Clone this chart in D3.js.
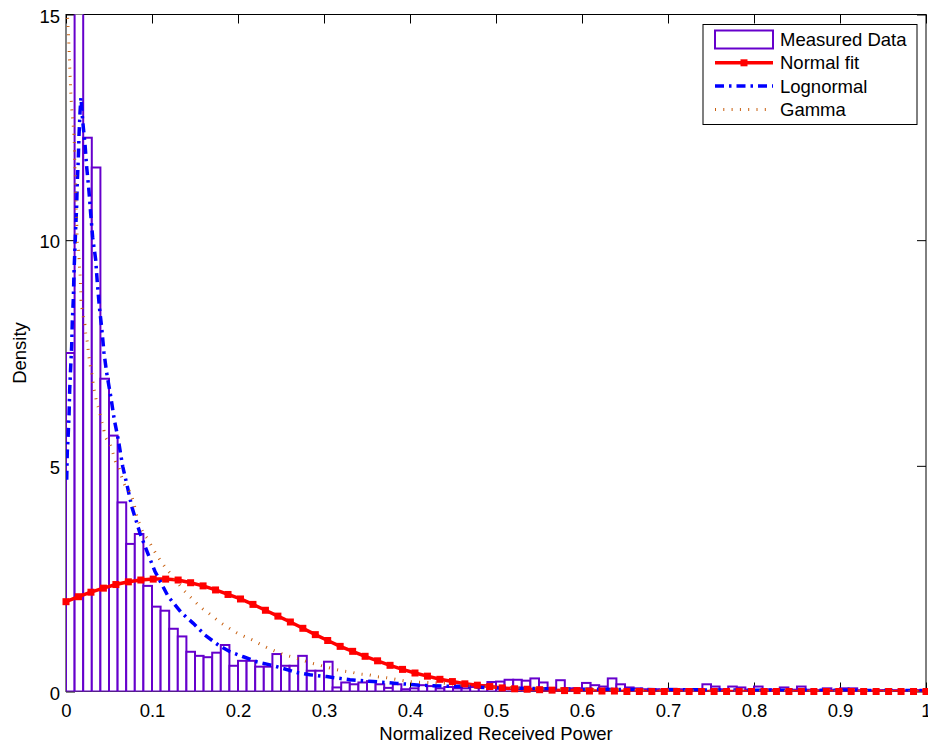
<!DOCTYPE html>
<html>
<head>
<meta charset="utf-8">
<script src="https://cdn.jsdelivr.net/npm/d3@7"></script>
<style>
  body { margin: 0; background: #fff; }
  svg { display: block; }
</style>
</head>
<body>
<svg id="chart"></svg>
<script>
// histogram of normalized received power (density per 0.01 bin, 100 bins on [0, 1])
const binWidth = 0.01;
const binHeights = [
  7.5, 16.5, 12.27, 11.61, 6.93, 5.67, 4.19, 3.27, 3.49, 2.34,
  1.88, 1.79, 1.39, 1.22, 0.88, 0.79, 0.76, 0.86, 1.03, 0.57,
  0.68, 0.68, 0.55, 0.55, 0.83, 0.57, 0.57, 0.79, 0.46, 0.46,
  0.66, 0.09, 0.2, 0.16, 0.2, 0.23, 0.16, 0.08, 0.16, 0.05,
  0.07, 0.14, 0.12, 0.07, 0.1, 0.07, 0.07, 0.1, 0.14, 0.21,
  0.22, 0.26, 0.26, 0.24, 0.29, 0.2, 0.07, 0.25, 0.07, 0.07,
  0.19, 0.14, 0.11, 0.29, 0.16, 0.09, 0.07, 0.05, 0.05, 0.04,
  0.06, 0.05, 0.04, 0.05, 0.16, 0.11, 0.05, 0.11, 0.09, 0.04,
  0.11, 0.05, 0.04, 0.09, 0.04, 0.11, 0.04, 0.03, 0.07, 0.03,
  0.07, 0.07, 0.03, 0.02, 0.03, 0.02, 0.03, 0.02, 0.02, 0.03
];

// normal fit, evaluated at 70 points
const normalX = [
  0, 0.0145, 0.0290, 0.0435, 0.0580, 0.0725, 0.0870, 0.1014, 0.1159, 0.1304,
  0.1449, 0.1594, 0.1739, 0.1884, 0.2029, 0.2174, 0.2319, 0.2464, 0.2609, 0.2754,
  0.2899, 0.3043, 0.3188, 0.3333, 0.3478, 0.3623, 0.3768, 0.3913, 0.4058, 0.4203,
  0.4348, 0.4493, 0.4638, 0.4783, 0.4928, 0.5072, 0.5217, 0.5362, 0.5507, 0.5652,
  0.5797, 0.5942, 0.6087, 0.6232, 0.6377, 0.6522, 0.6667, 0.6812, 0.6957, 0.7101,
  0.7246, 0.7391, 0.7536, 0.7681, 0.7826, 0.7971, 0.8116, 0.8261, 0.8406, 0.8551,
  0.8696, 0.8841, 0.8986, 0.9130, 0.9275, 0.9420, 0.9565, 0.9710, 0.9855, 1.0
];
const normalY = [
  1.99, 2.10, 2.20, 2.29, 2.37, 2.43, 2.47, 2.49, 2.49, 2.47,
  2.41, 2.34, 2.25, 2.15, 2.05, 1.93, 1.80, 1.67, 1.54, 1.40,
  1.26, 1.13, 1.00, 0.89, 0.78, 0.68, 0.58, 0.49, 0.41, 0.34,
  0.27, 0.22, 0.17, 0.14, 0.11, 0.08, 0.06, 0.05, 0.04, 0.03,
  0.02, 0.02, 0.01, 0.01, 0.01, 0, 0, 0, 0, 0,
  0, 0, 0, 0, 0, 0, 0, 0, 0, 0,
  0, 0, 0, 0, 0, 0, 0, 0, 0, 0
];

// lognormal fit
const lognormalX = [
  0.0008, 0.0015, 0.0023, 0.0035, 0.0043, 0.0055, 0.0066, 0.0073, 0.0085, 0.0093,
  0.0105, 0.0113, 0.0124, 0.0131, 0.0143, 0.0151, 0.0163, 0.0174, 0.0194, 0.0221,
  0.0241, 0.0267, 0.0287, 0.0310, 0.0345, 0.0364, 0.0387, 0.0415, 0.0442, 0.0473,
  0.0520, 0.0562, 0.0608, 0.0659, 0.0717, 0.0764, 0.0860, 0.0957, 0.1035, 0.1190,
  0.1345, 0.1480, 0.1616, 0.1771, 0.1907, 0.2062, 0.2217, 0.2372, 0.2527, 0.2683,
  0.2837, 0.3031, 0.3302, 0.3573, 0.3845, 0.4116, 0.4387, 0.4659, 0.4969, 0.5279,
  0.6, 0.7, 0.8, 0.9, 1.0
];
const lognormalY = [
  4.69, 5.32, 5.58, 6.10, 6.69, 7.21, 7.65, 8.18, 8.69, 9.29,
  9.87, 10.28, 10.76, 11.28, 11.79, 12.31, 12.83, 13.16, 12.64, 12.13,
  11.61, 11.09, 10.59, 10.06, 9.57, 9.06, 8.54, 8.06, 7.50, 7.06,
  6.54, 6.02, 5.58, 4.99, 4.51, 4.10, 3.51, 3.03, 2.66, 2.10,
  1.74, 1.51, 1.25, 1.03, 0.88, 0.77, 0.66, 0.59, 0.51, 0.42,
  0.37, 0.33, 0.26, 0.22, 0.18, 0.14, 0.12, 0.11, 0.08, 0.07,
  0.05, 0.04, 0.03, 0.025, 0.02
];

// gamma fit
const gammaX = [
  0.0005, 0.0014, 0.0027, 0.0047, 0.0055, 0.0085, 0.0093, 0.0105, 0.0113, 0.0116,
  0.0124, 0.0131, 0.0143, 0.0151, 0.0155, 0.0163, 0.0167, 0.0171, 0.0174, 0.0186,
  0.0201, 0.0221, 0.0229, 0.0248, 0.0259, 0.0271, 0.0287, 0.0306, 0.0317, 0.0337,
  0.0357, 0.0387, 0.0407, 0.0434, 0.0453, 0.0512, 0.0543, 0.0570, 0.0620, 0.0648,
  0.0686, 0.0744, 0.0783, 0.0826, 0.0860, 0.0899, 0.0957, 0.0997, 0.1055, 0.1113,
  0.1171, 0.1229, 0.1287, 0.1357, 0.1422, 0.1500, 0.1578, 0.1655, 0.1733, 0.1810,
  0.1899, 0.1985, 0.2073, 0.2171, 0.2256, 0.2352, 0.2450, 0.2547, 0.2643, 0.2741,
  0.2837, 0.2934, 0.3031, 0.3206, 0.3310, 0.3410, 0.3515, 0.3613, 0.3709, 0.4000,
  0.4194, 0.4407, 0.4620, 0.5, 0.55, 0.6, 0.7, 0.8, 0.9, 1.0
];
const gammaY = [
  17.5, 15.2, 14.64, 13.68, 13.30, 12.52, 12.33, 11.57, 11.19, 10.84,
  10.42, 10.02, 9.83, 9.65, 9.45, 9.26, 9.07, 8.87, 8.69, 8.50,
  8.30, 8.11, 7.93, 7.74, 7.55, 7.36, 7.17, 6.98, 6.80, 6.60,
  6.41, 6.23, 6.04, 5.86, 5.67, 5.49, 5.30, 5.12, 4.93, 4.75,
  4.56, 4.41, 4.21, 3.87, 3.69, 3.51, 3.36, 3.21, 3.03, 2.86,
  2.71, 2.58, 2.44, 2.27, 2.14, 1.99, 1.85, 1.74, 1.62, 1.51,
  1.40, 1.30, 1.22, 1.14, 1.05, 0.96, 0.88, 0.81, 0.76, 0.70,
  0.64, 0.59, 0.54, 0.46, 0.43, 0.39, 0.37, 0.33, 0.31, 0.22,
  0.20, 0.18, 0.14, 0.10, 0.07, 0.05, 0.02, 0.01, 0.005, 0.002
];

const xTicks = [0, 0.1, 0.2, 0.3, 0.4, 0.5, 0.6, 0.7, 0.8, 0.9, 1];
const xTickLabels = ["0", "0.1", "0.2", "0.3", "0.4", "0.5", "0.6", "0.7", "0.8", "0.9", "1"];
const yTicks = [0, 5, 10, 15];
const yTickLabels = ["0", "5", "10", "15"];
const legendLabels = ["Measured Data", "Normal fit", "Lognormal", "Gamma"];

const width = 928;
const height = 746;
const margin = { top: 14.5, left: 66, bottom: 54.5, right: 2 };
const font = "'Liberation Sans', Arial, Helvetica, sans-serif";
const fontSize = 18.5;
const colors = {
  hist: "#6600cc",
  normal: "#ff0000",
  lognormal: "#0000ff",
  gamma: "#c86010"
};
const lognormalDash = "9,5,2.5,5";
const gammaDash = "1,7.3";

const svg = d3.select("#chart")
  .attr("width", width)
  .attr("height", height)
  .attr("font-family", font);

const x = d3.scaleLinear().domain([0, 1]).range([margin.left, width - margin.right]);
const y = d3.scaleLinear().domain([0, 15]).range([height - margin.bottom, margin.top]);

svg.append("defs")
  .append("clipPath")
    .attr("id", "plot-clip")
  .append("rect")
    .attr("x", x(0))
    .attr("y", y(15))
    .attr("width", x(1) - x(0))
    .attr("height", y(0) - y(15));

// axes box
svg.append("rect")
  .attr("x", x(0))
  .attr("y", y(15))
  .attr("width", x(1) - x(0))
  .attr("height", y(0) - y(15))
  .attr("fill", "#fff")
  .attr("stroke", "#000")
  .attr("stroke-width", 1);

// ticks on all four sides, pointing inward
const xAxis = d3.axisBottom(x)
  .tickValues(xTicks)
  .tickFormat((d, i) => xTickLabels[i])
  .tickSize(-9)
  .tickSizeOuter(0)
  .tickPadding(12);

const yAxis = d3.axisLeft(y)
  .tickValues(yTicks)
  .tickFormat((d, i) => yTickLabels[i])
  .tickSize(-9)
  .tickSizeOuter(0)
  .tickPadding(6);

function styleAxis(g) {
  g.attr("font-size", fontSize).attr("font-family", font);
  g.select(".domain").remove();
  g.selectAll(".tick line").attr("stroke", "#000");
  g.selectAll(".tick text").attr("fill", "#000");
}

svg.append("g")
  .attr("transform", `translate(0,${y(0)})`)
  .call(xAxis)
  .call(styleAxis);

svg.append("g")
  .attr("transform", `translate(0,${y(15)})`)
  .call(d3.axisTop(x).tickValues(xTicks).tickFormat("").tickSize(-9).tickSizeOuter(0))
  .call(styleAxis);

svg.append("g")
  .attr("transform", `translate(${x(0)},0)`)
  .call(yAxis)
  .call(styleAxis)
  .selectAll(".tick text")
    .attr("dy", "0.42em");

svg.append("g")
  .attr("transform", `translate(${x(1)},0)`)
  .call(d3.axisRight(y).tickValues(yTicks).tickFormat("").tickSize(-9).tickSizeOuter(0))
  .call(styleAxis);

// data layer
const plot = svg.append("g").attr("clip-path", "url(#plot-clip)");

plot.append("g")
  .selectAll("rect")
  .data(binHeights)
  .enter()
  .append("rect")
    .attr("x", (d, i) => x(i * binWidth))
    .attr("y", d => y(d))
    .attr("width", x(binWidth) - x(0))
    .attr("height", d => y(0) - y(d))
    .attr("fill", "#fff")
    .attr("stroke", colors.hist)
    .attr("stroke-width", 2);

const toPoints = (xs, ys) => xs.map((v, i) => [v, ys[i]]);
const line = d3.line().x(d => x(d[0])).y(d => y(d[1]));
const smoothLine = d3.line().x(d => x(d[0])).y(d => y(d[1])).curve(d3.curveMonotoneX);

const normalPts = toPoints(normalX, normalY);

plot.append("path")
  .datum(normalPts)
  .attr("d", line)
  .attr("fill", "none")
  .attr("stroke", colors.normal)
  .attr("stroke-width", 3.5)
  .attr("stroke-linejoin", "round");

plot.append("path")
  .datum(toPoints(lognormalX, lognormalY))
  .attr("d", line)
  .attr("fill", "none")
  .attr("stroke", colors.lognormal)
  .attr("stroke-width", 3.5)
  .attr("stroke-dasharray", lognormalDash);

plot.append("path")
  .datum(toPoints(gammaX, gammaY))
  .attr("d", smoothLine)
  .attr("fill", "none")
  .attr("stroke", colors.gamma)
  .attr("stroke-width", 3)
  .attr("stroke-dasharray", gammaDash);

// normal fit markers are not clipped at the axes
svg.append("g")
  .selectAll("rect")
  .data(normalPts)
  .enter()
  .append("rect")
    .attr("x", d => x(d[0]) - 3.5)
    .attr("y", d => y(d[1]) - 3.5)
    .attr("width", 7)
    .attr("height", 7)
    .attr("fill", colors.normal);

// axis labels
svg.append("text")
  .attr("x", (x(0) + x(1)) / 2)
  .attr("y", 740)
  .attr("text-anchor", "middle")
  .attr("font-size", fontSize)
  .text("Normalized Received Power");

svg.append("text")
  .attr("transform", `translate(25.5,${(y(0) + y(15)) / 2}) rotate(-90)`)
  .attr("text-anchor", "middle")
  .attr("font-size", fontSize)
  .text("Density");

// legend
const legend = svg.append("g").attr("transform", "translate(703,24.5)");
legend.append("rect")
  .attr("width", 214)
  .attr("height", 100)
  .attr("fill", "#fff")
  .attr("stroke", "#000")
  .attr("stroke-width", 1);

const rowY = i => 15 + i * 23.3;
const sampleX0 = 12, sampleX1 = 70;

legend.append("rect")
  .attr("x", sampleX0)
  .attr("y", rowY(0) - 9)
  .attr("width", sampleX1 - sampleX0)
  .attr("height", 18)
  .attr("fill", "#fff")
  .attr("stroke", colors.hist)
  .attr("stroke-width", 2);

legend.append("line")
  .attr("x1", sampleX0).attr("x2", sampleX1)
  .attr("y1", rowY(1)).attr("y2", rowY(1))
  .attr("stroke", colors.normal)
  .attr("stroke-width", 3.5);
legend.append("rect")
  .attr("x", (sampleX0 + sampleX1) / 2 - 3.5)
  .attr("y", rowY(1) - 3.5)
  .attr("width", 7)
  .attr("height", 7)
  .attr("fill", colors.normal);

legend.append("line")
  .attr("x1", sampleX0).attr("x2", sampleX1)
  .attr("y1", rowY(2)).attr("y2", rowY(2))
  .attr("stroke", colors.lognormal)
  .attr("stroke-width", 3.5)
  .attr("stroke-dasharray", lognormalDash);

legend.append("line")
  .attr("x1", sampleX0).attr("x2", sampleX1)
  .attr("y1", rowY(3)).attr("y2", rowY(3))
  .attr("stroke", colors.gamma)
  .attr("stroke-width", 3)
  .attr("stroke-dasharray", gammaDash);

legend.selectAll(".legend-label")
  .data(legendLabels)
  .enter()
  .append("text")
    .attr("class", "legend-label")
    .attr("x", 77)
    .attr("y", (d, i) => rowY(i) + 6.5)
    .attr("font-size", fontSize)
    .text(d => d);
</script>
</body>
</html>
